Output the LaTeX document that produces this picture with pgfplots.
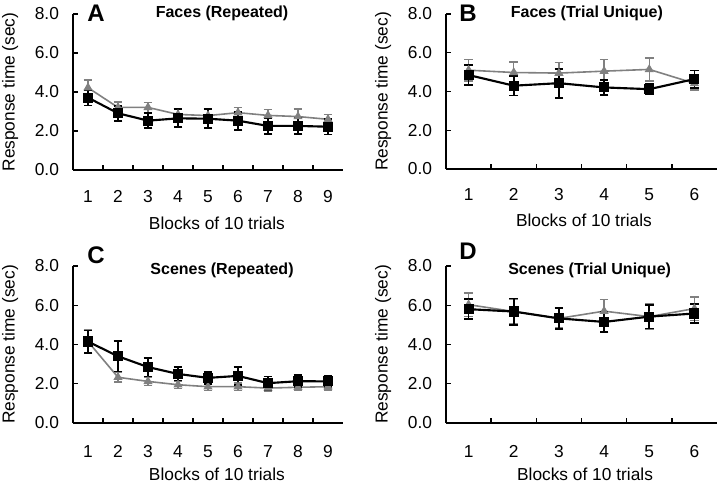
\documentclass[border=0pt]{standalone}
\usepackage{fontspec}
\setmainfont{Liberation Sans}
\usepackage{pgfplots}
\pgfplotsset{compat=1.18}
\usepackage{pgfplotstable}

% x  y  err
\pgfplotstableread{
x y e
1 3.71 0.40
2 2.91 0.38
3 2.53 0.39
4 2.65 0.46
5 2.63 0.48
6 2.53 0.46
7 2.26 0.41
8 2.26 0.43
9 2.22 0.40
}\Ablack
\pgfplotstableread{
x y e
1 4.22 0.40
2 3.21 0.27
3 3.21 0.25
4 2.85 0.28
5 2.79 0.32
6 2.94 0.27
7 2.80 0.30
8 2.74 0.40
9 2.60 0.25
}\Agray
\pgfplotstableread{
x y e
1 4.85 0.50
2 4.30 0.50
3 4.43 0.75
4 4.21 0.40
5 4.12 0.25
6 4.64 0.45
}\Bblack
\pgfplotstableread{
x y e
1 5.10 0.55
2 4.98 0.55
3 4.95 0.55
4 5.05 0.60
5 5.14 0.60
6 4.42 0.35
}\Bgray
\pgfplotstableread{
x y e
1 4.15 0.57
2 3.40 0.77
3 2.85 0.48
4 2.50 0.34
5 2.30 0.30
6 2.40 0.45
7 2.03 0.34
8 2.13 0.30
9 2.12 0.30
}\Cblack
\pgfplotstableread{
x y e
1 4.15 0.60
2 2.33 0.25
3 2.12 0.22
4 1.95 0.18
5 1.85 0.20
6 1.85 0.20
7 1.78 0.15
8 1.82 0.17
9 1.85 0.17
}\Cgray
\pgfplotstableread{
x y e
1 5.80 0.50
2 5.68 0.67
3 5.33 0.53
4 5.15 0.53
5 5.42 0.60
6 5.58 0.50
}\Dblack
\pgfplotstableread{
x y e
1 6.03 0.60
2 5.68 0.60
3 5.33 0.50
4 5.70 0.60
5 5.42 0.65
6 5.83 0.60
}\Dgray

\pgfplotsset{
  panel/.style={
    scale only axis,
    ymin=0, ymax=8,
    xmin=0.5,
    axis x line*=bottom, axis y line*=left,
    axis line style={-, line width=1.1pt},
    every tick/.style={line width=1.1pt, black},
    tick align=inside,
    major tick length=3.5pt, minor tick length=3.5pt,
    ytick={0,2,4,6,8},
    yticklabels={0.0,2.0,4.0,6.0,8.0},
    major x tick style={draw=none},
    minor x tick num=1,
    /pgf/number format/assume math mode=true,
    tick label style={font=\fontsize{13}{15}\selectfont},
    yticklabel style={xshift=-7pt},
    label style={font=\fontsize{13}{15}\selectfont},
    title style={font=\fontsize{12}{14}\selectfont\bfseries, anchor=center},
    ylabel={Response time (sec)},
    xlabel={Blocks of 10 trials},
    clip=false,
  },
  blk/.style={black, line width=1.6pt, mark=square*, mark size=3pt,
    mark options={solid},
    error bars/.cd, y dir=both, y explicit,
    error bar style={line width=1.3pt, black},
    error mark options={rotate=90, mark size=3.2pt, line width=1.3pt, black}},
  gry/.style={color=black!50, line width=1.2pt, mark=triangle*, mark size=2.8pt,
    error bars/.cd, y dir=both, y explicit,
    error bar style={line width=1.1pt, black!50},
    error mark options={rotate=90, mark size=3.2pt, line width=1.1pt, black!50}},
}

\begin{document}
\begin{tikzpicture}
\path[use as bounding box] (0,0) rectangle (540pt,361.5pt);

% Panel A
\begin{axis}[panel, at={(54.75pt,234pt)}, anchor=origin,
  width=202.5pt, height=117pt, xmax=9.5,
  xtick={1,...,9},
  xticklabel style={anchor=base, inner sep=0pt, yshift=-24.5pt},
  title={Faces (Repeated)}, title style={at={(axis description cs:0.552,0.955)}},
  xlabel style={at={(axis description cs:0.533,-0.34)}, anchor=center},
  ylabel style={at={(axis description cs:-0.233,0.5)}, anchor=center}]
\addplot[gry] table[x=x, y=y, y error=e] {\Agray};
\addplot[blk] table[x=x, y=y, y error=e] {\Ablack};
\node[font=\fontsize{18}{20}\selectfont\bfseries] at (axis description cs:0.085,1.006) {A};
\end{axis}

% Panel B
\begin{axis}[panel, at={(334.5pt,234.75pt)}, anchor=origin,
  width=203.25pt, height=116.25pt, xmax=6.5,
  xtick={1,...,6},
  xticklabel style={anchor=base, inner sep=0pt, yshift=-24pt},
  title={Faces (Trial Unique)}, title style={at={(axis description cs:0.52,0.955)}},
  xlabel style={at={(axis description cs:0.509,-0.333)}, anchor=center},
  ylabel style={at={(axis description cs:-0.232,0.5)}, anchor=center}]
\addplot[gry] table[x=x, y=y, y error=e] {\Bgray};
\addplot[blk] table[x=x, y=y, y error=e] {\Bblack};
\node[font=\fontsize{18}{20}\selectfont\bfseries] at (axis description cs:0.081,1.006) {B};
\end{axis}

% Panel C
\begin{axis}[panel, at={(54.75pt,44.25pt)}, anchor=origin,
  width=202.5pt, height=117.75pt, xmax=9.5,
  xtick={1,...,9},
  xticklabel style={anchor=base, inner sep=0pt, yshift=-25.5pt},
  title={Scenes (Repeated)}, title style={at={(axis description cs:0.552,0.924)}},
  xlabel style={at={(axis description cs:0.533,-0.325)}, anchor=center},
  ylabel style={at={(axis description cs:-0.233,0.5)}, anchor=center}]
\addplot[gry] table[x=x, y=y, y error=e] {\Cgray};
\addplot[blk] table[x=x, y=y, y error=e] {\Cblack};
\node[font=\fontsize{18}{20}\selectfont\bfseries] at (axis description cs:0.085,1.07) {C};
\end{axis}

% Panel D
\begin{axis}[panel, at={(334.5pt,44.25pt)}, anchor=origin,
  width=203.25pt, height=117.75pt, xmax=6.5,
  xtick={1,...,6},
  xticklabel style={anchor=base, inner sep=0pt, yshift=-25.5pt},
  title={Scenes (Trial Unique)}, title style={at={(axis description cs:0.53,0.924)}},
  xlabel style={at={(axis description cs:0.513,-0.325)}, anchor=center},
  ylabel style={at={(axis description cs:-0.232,0.5)}, anchor=center}]
\addplot[gry] table[x=x, y=y, y error=e] {\Dgray};
\addplot[blk] table[x=x, y=y, y error=e] {\Dblack};
\node[font=\fontsize{18}{20}\selectfont\bfseries] at (axis description cs:0.081,1.096) {D};
\end{axis}
\end{tikzpicture}
\end{document}
